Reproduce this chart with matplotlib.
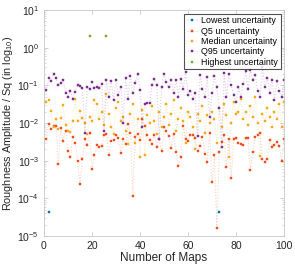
import numpy as np
import matplotlib
matplotlib.use("Agg")
from matplotlib import pyplot as plt
from matplotlib import colors as mcolors
from matplotlib.ticker import LogLocator, NullFormatter

plt.rcParams['font.family'] = ['Liberation Sans', 'DejaVu Sans']
plt.rcParams['mathtext.fontset'] = 'custom'
plt.rcParams['mathtext.rm'] = 'Liberation Sans'
plt.rcParams['mathtext.it'] = 'Liberation Sans:italic'

maps = np.arange(1, 101)

# log10 of roughness amplitude (nan = outside the axes)
lowest_log = [np.nan, -4.37] + [np.nan] * 70 + [-4.37] + [np.nan] * 27

q5_log = [-2.42, -2.02, -2.16, -2.07, -2.07, -3.08, -2.13, -2.47, -2.20, -2.73,
          -2.91, -2.36, -2.52, -3.00, -3.62, -2.95, -2.42, -2.58, -2.27, -3.22,
          -2.86, -2.58, -2.64, -2.60, -2.33, -2.29, -2.86, -2.48, -2.45, -2.33,
          -2.41, -2.80, -2.42, -2.55, -2.02, -2.27, -3.94, -2.36, -2.29, -2.45,
          -1.88, -2.07, -2.33, -2.45, -2.57, -2.31, -2.64, -2.42, -2.73, -2.11,
          -2.22, -2.35, -2.66, -2.29, -2.76, -3.13, -2.91, -2.09, -2.42, -2.47,
          -2.31, -2.33, -2.40, -2.75, -2.60, -2.38, -2.82, -3.04, -2.27, -3.57,
          -2.86, -4.78, -2.78, -2.50, -2.33, -3.17, -2.42, -3.46, -2.42, -2.40,
          -2.54, -2.55, -2.58, -2.41, -2.41, -3.24, -2.76, -2.38, -2.31, -2.27,
          -2.95, -3.04, -2.95, -2.45, -2.63, -2.58, -2.50, -2.60, -3.00, -2.42]

median_log = [-1.45, -1.38, -1.69, -2.10, -1.88, -2.17, -1.87, -1.52, -2.05, -2.20,
              -2.25, -1.95, -1.36, -1.94, -1.67, -1.86, -2.00, -2.30, -1.83, -1.95,
              -1.40, -1.49, -1.90, -1.70, -2.05, -1.22, -1.75, -2.10, -2.30, -1.60,
              -1.45, -1.95, -1.85, -2.20, -2.55, -1.75, -1.50, -2.53, -1.90, -2.89,
              -1.65, -2.84, -1.80, -2.00, -1.55, -1.95, -2.30, -1.70, -2.10, -1.85,
              -1.50, -2.05, -1.75, -1.40, -2.20, -1.90, -1.60, -1.95, -2.53, -1.70,
              -1.85, -2.10, -2.69, -1.75, -1.95, -1.55, -2.27, -1.80, -2.00, -1.70,
              -1.90, -2.54, -1.60, -2.10, -1.50, -1.80, -2.89, -2.00, -1.45, -1.75,
              -1.70, -1.35, -1.90, -1.70, -2.05, -1.55, -1.85, -1.30, -2.00, -2.87,
              -1.75, -1.95, -1.60, -1.85, -2.10, -1.70, -1.90, -1.50, -2.10, -1.45]

q95_log = [-1.13, -0.81, -0.88, -0.70, -0.81, -0.99, -0.94, -0.85, -1.20, -1.32,
           -1.15, -1.36, -1.17, -0.99, -1.01, -1.08, -2.27, -1.05, -1.10, -0.90,
           -1.07, -1.03, -1.07, -0.96, -2.22, -0.85, -1.30, -0.88, -1.40, -0.85,
           -1.25, -1.03, -2.00, -0.81, -1.35, -0.76, -1.20, -0.94, -0.70, -1.11,
           -2.11, -1.49, -1.47, -1.47, -1.00, -0.84, -0.99, -2.43, -1.05, -0.70,
           -0.92, -1.05, -0.85, -1.20, -0.85, -1.30, -0.83, -1.10, -0.64, -1.25,
           -1.14, -1.35, -1.20, -2.34, -0.72, -1.10, -1.30, -0.79, -1.83, -1.20,
           -0.76, -1.05, -1.60, -2.63, -0.67, -1.32, -0.70, -1.00, -1.25, -1.45,
           -1.05, -1.30, -0.95, -0.63, -1.10, -0.59, -0.85, -0.72, -1.15, -1.30,
           -0.52, -1.05, -0.80, -1.20, -0.85, -1.40, -0.88, -1.15, -1.30, -0.85]

highest_log = [np.nan] * 18 + [0.30] + [np.nan] * 6 + [0.30] + [np.nan] * 74

series = [
    ("Lowest uncertainty", lowest_log, "#0072BD"),
    ("Q5 uncertainty", q5_log, "#E8501E"),
    ("Median uncertainty", median_log, "#F2A91E"),
    ("Q95 uncertainty", q95_log, "#7E2F8E"),
    ("Highest uncertainty", highest_log, "#77AC30"),
]

fig = plt.figure(figsize=(2.95, 2.66), dpi=100)
ax = fig.add_axes([0.149, 0.113, 0.814, 0.849])

for name, vals, col in series:
    y = np.power(10.0, np.array(vals, dtype=float))
    line_col = mcolors.to_rgba(col, 0.25)
    ax.plot(maps, y, linestyle=':', linewidth=0.8, color=line_col,
            marker='s', markersize=2.0, markerfacecolor=col,
            markeredgecolor=col, markeredgewidth=0.3, label=name)

ax.set_yscale('log')
ax.set_xlim(0, 100)
ax.set_ylim(1e-5, 1e1)
ax.set_xticks([0, 20, 40, 60, 80, 100])
ax.yaxis.set_major_locator(LogLocator(base=10, numticks=10))
ax.yaxis.set_minor_locator(LogLocator(base=10, subs=np.arange(2, 10), numticks=20))
ax.yaxis.set_minor_formatter(NullFormatter())

ax.tick_params(which='both', direction='in', top=True, right=True,
               colors='#bdbdbd', labelcolor='#262626', labelsize=7.5)
ax.tick_params(which='major', length=3, width=0.5)
ax.tick_params(which='minor', length=1.6, width=0.4)
for sp in ax.spines.values():
    sp.set_color('#c8c8c8')
    sp.set_linewidth(0.6)

ax.set_xlabel('Number of Maps', fontsize=8.5, color='#262626', labelpad=1)
ax.set_ylabel('Roughness Amplitude / Sq (in log$_{10}$)', fontsize=7.8,
              color='#262626', labelpad=2)

leg = ax.legend(loc='upper right', fontsize=6.4, frameon=True, fancybox=False,
                handlelength=1.2, handletextpad=0.4, labelspacing=0.15,
                borderpad=0.3, borderaxespad=0.4)
leg.get_frame().set_edgecolor('#262626')
leg.get_frame().set_linewidth(0.8)

fig.savefig('out.png', dpi=100)
